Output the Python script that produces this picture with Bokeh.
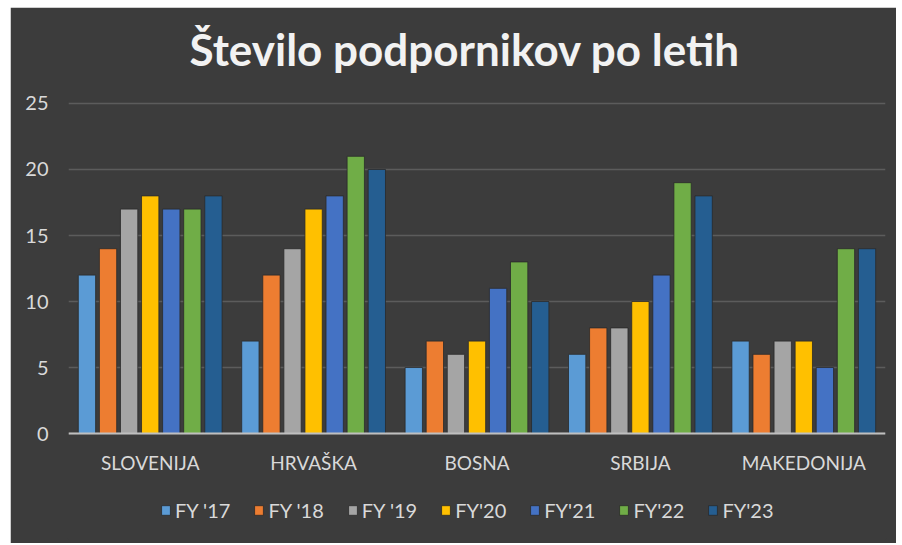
from bokeh.plotting import figure
from bokeh.models import ColumnDataSource, FactorRange, Legend, LegendItem, FixedTicker, Title
from bokeh.transform import dodge
from bokeh.embed import file_html
from bokeh.resources import INLINE

categories = ["SLOVENIJA", "HRVAŠKA", "BOSNA", "SRBIJA", "MAKEDONIJA"]
series_names = ["FY '17", "FY '18", "FY '19", "FY'20", "FY'21", "FY'22", "FY'23"]
fy17 = [12, 7, 5, 6, 7]
fy18 = [14, 12, 7, 8, 6]
fy19 = [17, 14, 6, 8, 7]
fy20 = [18, 17, 7, 10, 7]
fy21 = [17, 18, 11, 12, 5]
fy22 = [17, 21, 13, 19, 14]
fy23 = [18, 20, 10, 18, 14]
series_values = [fy17, fy18, fy19, fy20, fy21, fy22, fy23]
y_ticks = [0, 5, 10, 15, 20, 25]
title_text = "Število podpornikov po letih"
colors = ["#5b9bd5", "#ed7d31", "#a5a5a5", "#ffc000", "#4472c4", "#70ad47", "#255e91"]

FONT = "Lato"
BG = "#3c3c3c"

data = {"cat": categories}
for i, vals in enumerate(series_values):
    data[f"s{i}"] = vals
source = ColumnDataSource(data)

p = figure(x_range=FactorRange(*categories, range_padding=0), y_range=(-7.95, 25.15),
           width=886, height=536, output_backend="svg", toolbar_location=None,
           min_border_left=58, min_border_right=11, min_border_top=94, min_border_bottom=5)
p.margin = (7, 0, 0, 10)

p.background_fill_color = BG
p.border_fill_color = BG
p.outline_line_color = BG
p.outline_line_width = 2

# main title (outer), spacer title next to the frame
p.title.text = title_text
p.title.align = "left"
p.title.offset = 121
p.title.standoff = 0
p.title.text_font = FONT
p.title.text_font_size = "44px"
p.title.text_font_style = "bold"
p.title.text_color = "#f2f2f2"
spacer = Title(text=" ", text_font_size="1px", standoff=24)
p.add_layout(spacer, "above")

stride = 0.129
width = 0.106
items = []
for i, name in enumerate(series_names):
    r = p.vbar(x=dodge("cat", (i - 3) * stride, range=p.x_range), top=f"s{i}", width=width,
               source=source, fill_color=colors[i], line_color="#2a2a2a", line_width=0.8)
    items.append(LegendItem(label=name, renderers=[r]))

legend = Legend(items=items, orientation="horizontal", location=(92, 16),
                background_fill_alpha=0, border_line_color=None,
                label_text_color="#d9d9d9", label_text_font=FONT, label_text_font_size="20px",
                glyph_width=11, glyph_height=12, label_standoff=4, spacing=23,
                padding=0, margin=0)
p.add_layout(legend)

p.ygrid.grid_line_color = "#5c5c5c"
p.ygrid.grid_line_width = 1.5
p.xgrid.grid_line_color = None

p.yaxis.ticker = FixedTicker(ticks=y_ticks)
p.yaxis.axis_line_color = None
p.yaxis.major_tick_line_color = None
p.yaxis.minor_tick_line_color = None
p.yaxis.major_label_text_color = "#d9d9d9"
p.yaxis.major_label_text_font = FONT
p.yaxis.major_label_text_font_size = "20px"
p.yaxis.major_label_standoff = 14
p.ygrid.ticker = FixedTicker(ticks=y_ticks)

p.xaxis.fixed_location = 0
p.xaxis.axis_line_color = "#bfbfbf"
p.xaxis.axis_line_width = 2
p.xaxis.major_tick_line_color = None
p.xaxis.minor_tick_line_color = None
p.xaxis.major_label_text_color = "#d9d9d9"
p.xaxis.major_label_text_font = FONT
p.xaxis.major_label_text_font_size = "19px"
p.xaxis.major_label_standoff = 11

open("out.html", "w").write(file_html(p, INLINE))
